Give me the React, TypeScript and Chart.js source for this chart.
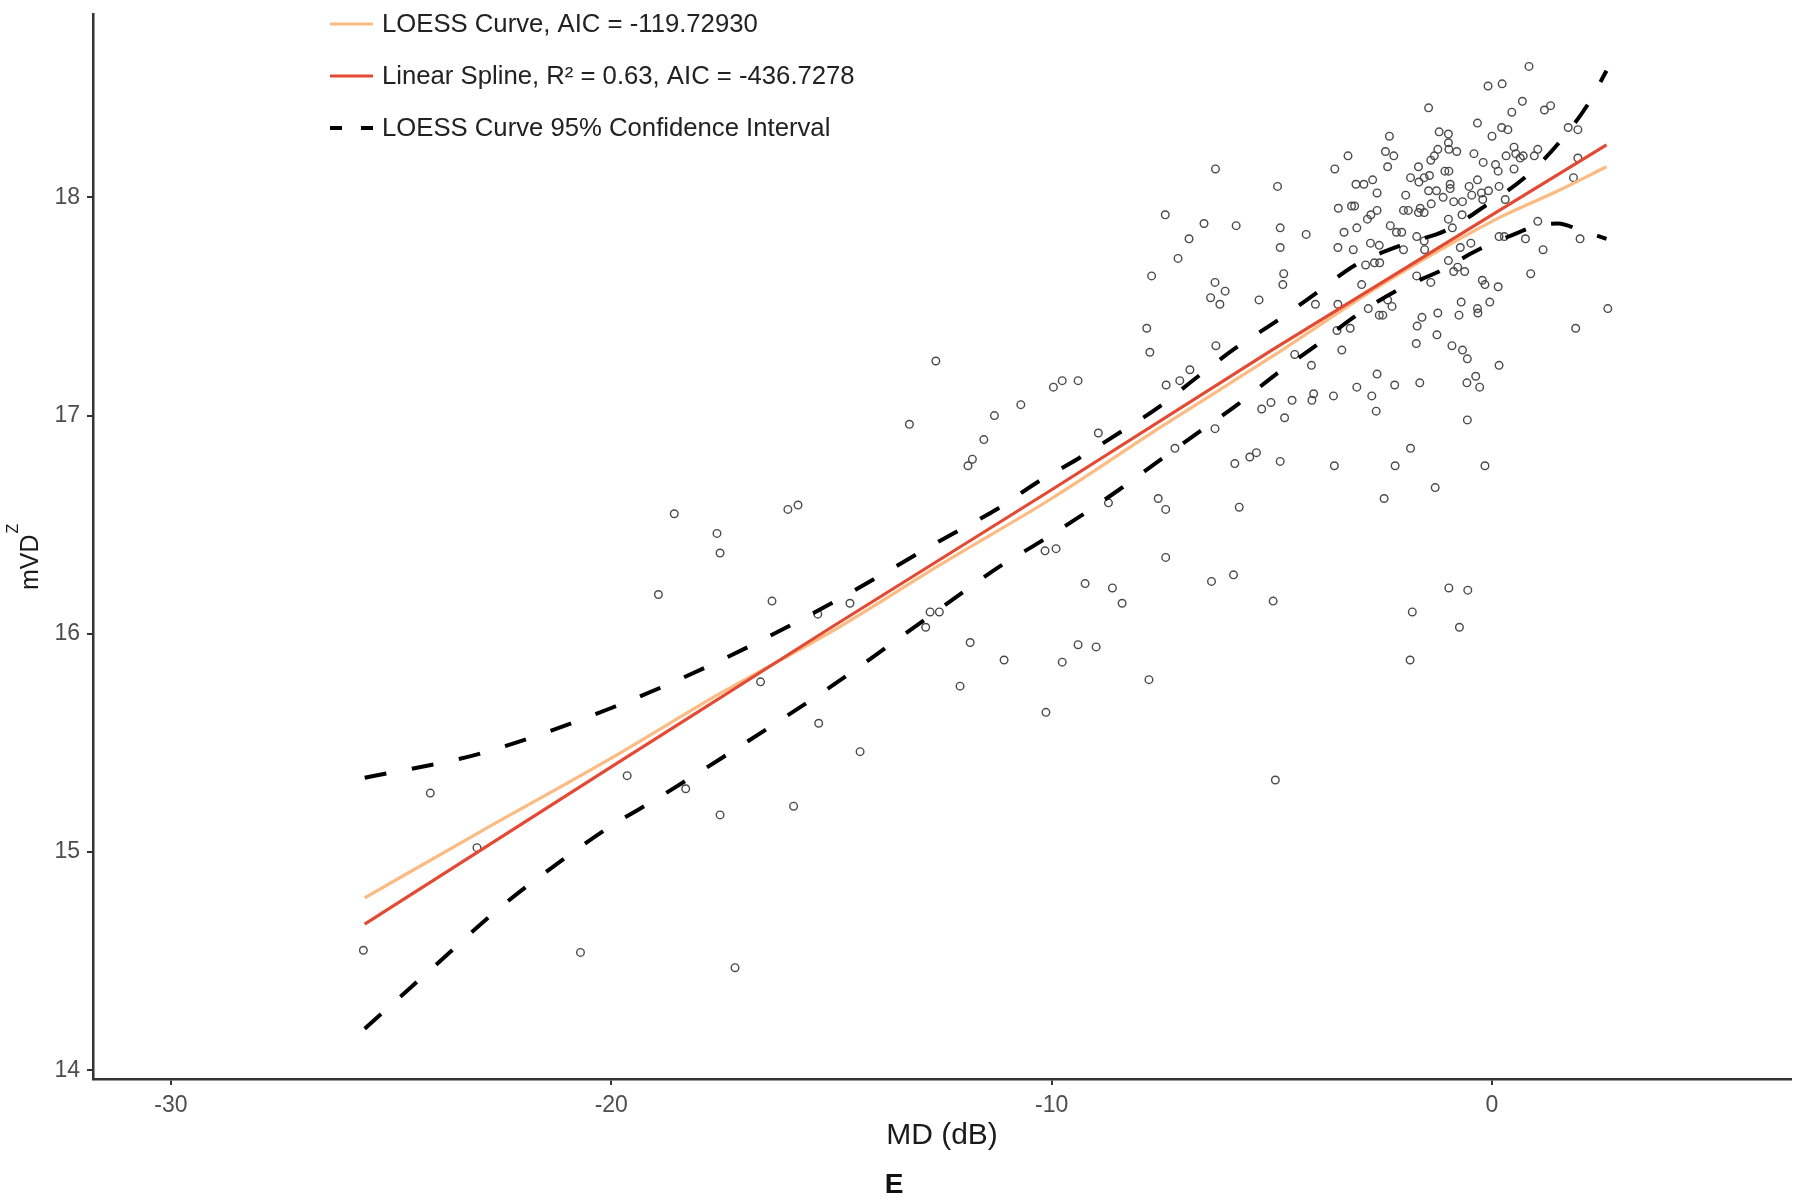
import React, { useEffect, useRef } from 'react';
import { Chart, registerables } from 'chart.js';

Chart.register(...registerables);

// ---------- data ----------
const xTicks = [-30, -20, -10, 0];
const yTicks = [14, 15, 16, 17, 18];

const legendLabels = [
  'LOESS Curve, AIC = -119.72930',
  'Linear Spline, R\u00B2 = 0.63, AIC = -436.7278',
  'LOESS Curve 95% Confidence Interval',
];

// observed points: MD (dB)
const mdValues = [
  -25.63, -24.11, -23.05, -20.70, -19.64, -18.93, -18.57, -18.31, -17.60, -17.53,
  -17.53, -17.19, -16.61, -16.35, -15.99, -15.76, -15.86, -15.31, -15.29, -14.58,
  -14.35, -13.23, -12.86, -12.76, -12.55, -12.63, -12.08, -11.90, -11.80, -11.85,
  -11.54, -11.30, -10.13, -4.92, -7.42, -6.88, -6.54, -6.28, -5.81,
  -7.13, -7.73, -6.29, -6.06, -6.39, -6.18, -7.84, -7.77, -6.27, -6.86,
  -7.40, -7.09, -8.94, -9.96, -9.76, -9.40, -10.70, -6.29, -7.20, -5.84,
  -5.50, -5.35, -4.81, -3.58, -2.20, -1.85, -0.16, -1.29, -2.45, -5.74,
  -7.58, -7.41, -8.71, -10.15, -9.90, -7.41, -9.24, -8.62, -8.40, -6.37,
  -5.87, -4.97, -0.98, -0.55, -1.81, -0.74, -1.86, -11.08, -9.76, -9.40,
  -8.99, -7.79,
  0.84, -0.09, 0.23, -1.44, 0.69, 0.45, 1.33, 1.19, -0.33, 0.00,
  0.22, 0.36, 1.73, 1.95, -2.33, -1.20, -0.99, -0.99, -3.27, -2.42,
  -2.23, -2.37, -3.57, -4.87, -1.23, -0.98, -0.80, -1.31, -1.39, -0.41,
  -0.20, 0.08, 0.14, 0.32, 0.50, 0.54, 0.64, 0.71, 1.04, 0.96,
  0.50, 1.95, 1.85, -1.67, -1.85, -1.54, -1.42, -1.07, -0.98, -3.09,
  -2.91, -2.71, -2.61, -1.96, -1.66, -0.95, -0.95, -1.44, -1.26, -1.11,
  -0.87, -0.67, -0.52, -0.46, -0.33, -0.24, -0.21, -0.08, 0.16, 0.30,
  -3.49, -3.19, -3.12, -2.61, -2.75, -2.83, -2.01, -1.90, -1.67, -1.54,
  -1.63, -1.38, -0.68, -4.81, -4.22, -3.36, -3.07, -2.31, -2.17, -2.05,
  -2.01, -1.71, -1.54, -0.99, -0.90, 0.16, 0.28, 0.76, 1.04, 2.00,
  -4.81, -3.50, -3.15, -2.76, -2.56, -1.53, -0.72, -0.48, 1.16, -4.73,
  -4.75, -4.01, -5.29, -2.87, -2.67, -2.55, -2.96, -1.71, -1.39, -0.99,
  -0.87, -0.78, -0.62, -0.22, -0.16, 0.14, 0.88, -3.50, -2.81, -2.37,
  -2.27, -2.56, -2.48, -1.59, -1.70, -1.23, -0.75, -0.70, -0.33, -0.32,
  -0.05, 2.63, 1.90, -3.52, -3.22, -4.48, -4.10, -3.41, -1.72, -1.25,
  -0.91, -0.67, -0.56, 0.16, -2.61, -2.21, -1.64, -3.07, -4.05, -4.09,
  -3.60, -4.54, -5.02, -5.23, -2.73, -2.63, -4.71, -0.57, -0.37, -0.28,
  -0.56,
];

// observed points: mVD^Z
const mvdValues = [
  14.55, 15.27, 15.02, 14.54, 15.35, 16.18, 16.55, 15.29, 16.46, 16.37,
  15.17, 14.47, 15.78, 16.15, 16.57, 16.59, 15.21, 16.09, 15.59, 16.14,
  15.46, 16.96, 16.03, 16.10, 16.10, 17.25, 15.76, 16.77, 16.80, 15.96,
  16.89, 17.00, 15.64, 15.33, 17.92, 17.81, 17.88, 18.13, 17.87,
  17.72, 17.64, 17.61, 17.57, 17.54, 17.51, 17.40, 17.29, 17.32, 17.21,
  17.14, 17.16, 16.92, 17.13, 17.16, 17.16, 17.05, 16.94, 16.85, 16.78,
  16.81, 16.83, 16.79, 16.77, 16.77, 16.85, 16.77, 16.67, 16.62, 16.58,
  16.62, 16.57, 16.60, 16.38, 16.39, 16.35, 16.23, 16.21, 16.14, 16.24,
  16.27, 16.15, 16.21, 16.20, 16.10, 16.03, 15.88, 15.88, 15.87, 15.95,
  15.94, 15.79,
  18.60, 18.51, 18.52, 18.41, 18.44, 18.39, 18.42, 18.40, 18.34, 18.28,
  18.32, 18.31, 18.32, 18.31, 18.28, 18.30, 18.29, 18.25, 18.19, 18.21,
  18.19, 18.14, 18.13, 18.05, 18.22, 18.22, 18.21, 18.19, 18.17, 18.20,
  18.16, 18.15, 18.12, 18.19, 18.23, 18.20, 18.18, 18.19, 18.22, 18.19,
  18.13, 18.18, 18.09, 18.14, 18.09, 18.09, 18.10, 18.12, 18.12, 18.06,
  18.06, 18.08, 18.02, 18.01, 18.07, 18.06, 18.04, 18.03, 18.03, 18.00,
  17.98, 17.98, 18.05, 18.01, 18.08, 18.02, 17.99, 18.03, 18.05, 17.99,
  17.95, 17.96, 17.96, 17.94, 17.92, 17.90, 17.94, 17.94, 17.93, 17.93,
  17.95, 17.97, 17.92, 17.86, 17.83, 17.84, 17.86, 17.87, 17.84, 17.84,
  17.76, 17.82, 17.80, 17.90, 17.86, 17.82, 17.82, 17.81, 17.89, 17.81,
  17.77, 17.77, 17.76, 17.79, 17.78, 17.76, 17.77, 17.79, 17.76, 17.65,
  17.60, 17.51, 17.53, 17.69, 17.70, 17.70, 17.60, 17.64, 17.61, 17.71,
  17.66, 17.68, 17.66, 17.62, 17.60, 17.59, 17.65, 17.51, 17.49, 17.53,
  17.50, 17.46, 17.46, 17.45, 17.41, 17.47, 17.46, 17.52, 17.49, 17.47,
  17.52, 17.49, 17.40, 17.39, 17.40, 17.28, 17.23, 17.30, 17.33, 17.37,
  17.32, 17.30, 17.26, 17.23, 17.19, 17.14, 17.15, 17.13, 17.10, 17.07,
  17.09, 17.07, 17.06, 17.03, 17.09, 17.02, 16.99, 17.15, 17.18, 17.13,
  16.98,
];

// LOESS curve
const loessX = [-25.6, -23, -20, -17.5, -15, -12.5, -10, -7.5, -5, -2.5, 0, 1.5, 2.6];
const loessY = [14.79, 15.09, 15.43, 15.73, 16.01, 16.32, 16.62, 16.95, 17.27, 17.60, 17.89, 18.03, 18.14];

// Linear spline
const splineX = [-25.6, -20, -15, -10, -5, 0, 2.6];
const splineY = [14.67, 15.39, 16.03, 16.66, 17.30, 17.92, 18.24];

// LOESS 95% CI
const ciUpperX = [-25.6, -23, -20, -17.5, -15, -12.5, -11.17, -10.36, -9.42, -8.47, -7.56, -6.67, -5.82, -4.91, -4.0, -3.1, -2.07, -1.03, -0.16, 0.8, 1.52, 2.19, 2.6];
const ciUpperY = [15.34, 15.45, 15.66, 15.88, 16.14, 16.43, 16.58, 16.69, 16.80, 16.92, 17.04, 17.18, 17.31, 17.43, 17.56, 17.69, 17.78, 17.85, 17.96, 18.10, 18.25, 18.43, 18.58];
const ciLowerX = [-25.6, -24, -22.5, -21, -20, -19, -17.5, -15, -12.5, -11.17, -10.27, -9.34, -8.47, -7.58, -6.69, -5.78, -4.9, -4.0, -3.0, -2.1, -1.1, -0.5, 0.0, 0.5, 1.0, 1.5, 2.0, 2.6];
const ciLowerY = [14.19, 14.48, 14.75, 14.98, 15.12, 15.24, 15.43, 15.76, 16.12, 16.31, 16.42, 16.54, 16.66, 16.79, 16.92, 17.05, 17.19, 17.32, 17.47, 17.58, 17.67, 17.74, 17.79, 17.83, 17.87, 17.88, 17.85, 17.81];

const zip = (xs: number[], ys: number[]) => xs.map((x, i) => ({ x, y: ys[i] }));

const FONT = "'Liberation Sans', Arial, sans-serif";
const LOESS_COLOR = '#FDBB84';
const SPLINE_COLOR = '#E34A33';

const extrasPlugin = {
  id: 'extras',
  afterDraw(chart: any) {
    const ctx: CanvasRenderingContext2D = chart.ctx;
    const area = chart.chartArea;
    ctx.save();

    // legend inside plot, top-left
    const lx0 = area.left + 237;
    const lx1 = area.left + 280;
    const tx = area.left + 289;
    const styles = [
      { color: LOESS_COLOR, width: 3, dash: [] as number[] },
      { color: SPLINE_COLOR, width: 3, dash: [] as number[] },
      { color: '#000000', width: 4, dash: [12, 19] },
    ];
    legendLabels.forEach((label, i) => {
      const y = 24 + i * 52;
      const st = styles[i];
      ctx.beginPath();
      ctx.setLineDash(st.dash);
      ctx.lineWidth = st.width;
      ctx.strokeStyle = st.color;
      ctx.lineCap = 'butt';
      ctx.moveTo(lx0, y);
      ctx.lineTo(lx1, y);
      ctx.stroke();
      ctx.setLineDash([]);
      ctx.fillStyle = '#222222';
      ctx.font = `25.7px ${FONT}`;
      ctx.textAlign = 'left';
      ctx.textBaseline = 'middle';
      ctx.fillText(label, tx, y + 1);
    });

    // y-axis title with superscript
    ctx.save();
    ctx.translate(38, 590);
    ctx.rotate(-Math.PI / 2);
    ctx.fillStyle = '#1a1a1a';
    ctx.textAlign = 'left';
    ctx.textBaseline = 'alphabetic';
    ctx.font = `25px ${FONT}`;
    ctx.fillText('mVD', 0, 0);
    const w = ctx.measureText('mVD').width;
    ctx.font = `16px ${FONT}`;
    ctx.fillText('Z', w + 1, -20);
    ctx.restore();

    // panel letter
    ctx.fillStyle = '#111111';
    ctx.font = `bold 28px ${FONT}`;
    ctx.textAlign = 'center';
    ctx.textBaseline = 'middle';
    ctx.fillText('E', 894, 1185);

    ctx.restore();
  },
};

export default function App() {
  const ref = useRef<HTMLCanvasElement>(null);

  useEffect(() => {
    if (!ref.current) return;
    const lineCommon = {
      showLine: true,
      pointRadius: 0,
      pointHoverRadius: 0,
      fill: false,
    };
    const chart = new Chart(ref.current, {
      type: 'scatter',
      data: {
        datasets: [
          {
            ...lineCommon,
            label: legendLabels[2],
            data: zip(ciUpperX, ciUpperY),
            borderColor: '#000000',
            borderWidth: 4,
            borderDash: [22, 26],
            cubicInterpolationMode: 'monotone',
          },
          {
            ...lineCommon,
            label: legendLabels[2] + ' (lower)',
            data: zip(ciLowerX, ciLowerY),
            borderColor: '#000000',
            borderWidth: 4,
            borderDash: [22, 26],
            cubicInterpolationMode: 'monotone',
          },
          {
            ...lineCommon,
            label: legendLabels[1],
            data: zip(splineX, splineY),
            borderColor: SPLINE_COLOR,
            borderWidth: 3.2,
            tension: 0,
          },
          {
            ...lineCommon,
            label: legendLabels[0],
            data: zip(loessX, loessY),
            borderColor: LOESS_COLOR,
            borderWidth: 3.2,
            cubicInterpolationMode: 'monotone',
          },
          {
            label: 'Observed',
            data: zip(mdValues, mvdValues),
            showLine: false,
            pointStyle: 'circle',
            pointRadius: 3.8,
            pointBorderWidth: 1.4,
            borderColor: '#4a4a4a',
            backgroundColor: 'rgba(0,0,0,0)',
          },
        ] as any,
      },
      options: {
        responsive: false,
        maintainAspectRatio: false,
        animation: false,
        layout: { padding: { left: 0, right: 9, top: 14, bottom: 0 } },
        plugins: {
          legend: { display: false },
          tooltip: { enabled: false },
          title: { display: false },
        },
        scales: {
          x: {
            type: 'linear',
            min: -31.77,
            max: 6.79,
            afterFit: (s: any) => {
              s.height = 121;
              s.paddingLeft = 0;
              s.paddingRight = 0;
            },
            afterBuildTicks: (s: any) => {
              s.ticks = xTicks.map((v) => ({ value: v }));
            },
            grid: {
              display: true,
              drawOnChartArea: false,
              drawTicks: true,
              tickLength: 6,
              color: '#333333',
              lineWidth: 2,
            },
            border: { display: true, color: '#333333', width: 2.5 },
            ticks: {
              color: '#4d4d4d',
              font: { family: FONT, size: 23 },
              padding: 7,
              maxRotation: 0,
            },
            title: {
              display: true,
              text: 'MD (dB)',
              color: '#1a1a1a',
              font: { family: FONT, size: 30 },
              padding: { top: 0, bottom: 46 },
            },
          },
          y: {
            type: 'linear',
            min: 13.96,
            max: 18.84,
            afterFit: (s: any) => {
              s.width = 93;
              s.paddingTop = 0;
              s.paddingBottom = 0;
            },
            afterBuildTicks: (s: any) => {
              s.ticks = yTicks.map((v) => ({ value: v }));
            },
            grid: {
              display: true,
              drawOnChartArea: false,
              drawTicks: true,
              tickLength: 6,
              color: '#333333',
              lineWidth: 2,
            },
            border: { display: true, color: '#333333', width: 2.5 },
            ticks: {
              color: '#4d4d4d',
              font: { family: FONT, size: 23 },
              padding: 7,
            },
            title: { display: false },
          },
        },
      } as any,
      plugins: [extrasPlugin],
    });
    return () => chart.destroy();
  }, []);

  return (
    <div style={{ position: 'absolute', left: 0, top: 0, width: 1800, height: 1200, background: '#ffffff' }}>
      <canvas ref={ref} width={1800} height={1200} style={{ width: 1800, height: 1200, display: 'block' }} />
    </div>
  );
}
